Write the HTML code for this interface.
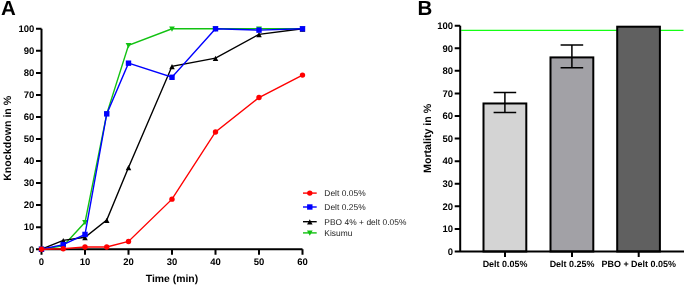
<!DOCTYPE html>
<html><head><meta charset="utf-8"><style>
html,body{margin:0;padding:0;background:#fff;}
svg{display:block;will-change:transform;text-rendering:geometricPrecision;font-family:"Liberation Sans",sans-serif;}
.tk{font-size:9.5px;font-weight:bold;}
.tt{font-size:10.65px;font-weight:bold;}
.bl{font-size:8.95px;font-weight:bold;}
.lg{font-size:8.4px;letter-spacing:0.05px;fill:#222;}
</style></head><body>
<svg width="685" height="285" viewBox="0 0 685 285">
<text x="0.9" y="15.3" font-size="20.5" font-weight="bold">A</text>
<text x="417.6" y="15.4" font-size="20.5" font-weight="bold">B</text>
<path d="M41.5 28.8V254.7M40.5 249.2H302.5M36.0 249.20H41.5M36.0 227.16H41.5M36.0 205.12H41.5M36.0 183.08H41.5M36.0 161.04H41.5M36.0 139.00H41.5M36.0 116.96H41.5M36.0 94.92H41.5M36.0 72.88H41.5M36.0 50.84H41.5M36.0 28.80H41.5M41.50 249.2V254.7M85.00 249.2V254.7M128.50 249.2V254.7M172.00 249.2V254.7M215.50 249.2V254.7M259.00 249.2V254.7M302.50 249.2V254.7" stroke="#000" stroke-width="2" fill="none"/>
<text x="34.3" y="252.50" text-anchor="end" class="tk">0</text>
<text x="34.3" y="230.46" text-anchor="end" class="tk">10</text>
<text x="34.3" y="208.42" text-anchor="end" class="tk">20</text>
<text x="34.3" y="186.38" text-anchor="end" class="tk">30</text>
<text x="34.3" y="164.34" text-anchor="end" class="tk">40</text>
<text x="34.3" y="142.30" text-anchor="end" class="tk">50</text>
<text x="34.3" y="120.26" text-anchor="end" class="tk">60</text>
<text x="34.3" y="98.22" text-anchor="end" class="tk">70</text>
<text x="34.3" y="76.18" text-anchor="end" class="tk">80</text>
<text x="34.3" y="54.14" text-anchor="end" class="tk">90</text>
<text x="34.3" y="32.10" text-anchor="end" class="tk">100</text>
<text x="41.50" y="265.4" text-anchor="middle" class="tk">0</text>
<text x="85.00" y="265.4" text-anchor="middle" class="tk">10</text>
<text x="128.50" y="265.4" text-anchor="middle" class="tk">20</text>
<text x="172.00" y="265.4" text-anchor="middle" class="tk">30</text>
<text x="215.50" y="265.4" text-anchor="middle" class="tk">40</text>
<text x="259.00" y="265.4" text-anchor="middle" class="tk">50</text>
<text x="302.50" y="265.4" text-anchor="middle" class="tk">60</text>
<text x="172" y="282.1" text-anchor="middle" class="tt" style="font-size:10.4px">Time (min)</text>
<text transform="translate(10.6 138.3) rotate(-90)" text-anchor="middle" class="tt">Knockdown in %</text>
<polyline points="41.50,249.20 63.25,245.89 85.00,222.31 106.75,113.87 128.50,45.33 172.00,28.80 215.50,28.80 259.00,28.80 302.50,28.80" fill="none" stroke="#12c212" stroke-width="1.4"/>
<path d="M41.50 252.11L44.35 246.81L38.65 246.81Z" fill="#12c212"/>
<path d="M63.25 248.81L66.10 243.51L60.40 243.51Z" fill="#12c212"/>
<path d="M85.00 225.23L87.85 219.93L82.15 219.93Z" fill="#12c212"/>
<path d="M106.75 116.79L109.60 111.49L103.90 111.49Z" fill="#12c212"/>
<path d="M128.50 48.25L131.35 42.95L125.65 42.95Z" fill="#12c212"/>
<path d="M172.00 31.72L174.85 26.42L169.15 26.42Z" fill="#12c212"/>
<path d="M215.50 31.72L218.35 26.42L212.65 26.42Z" fill="#12c212"/>
<path d="M259.00 31.72L261.85 26.42L256.15 26.42Z" fill="#12c212"/>
<path d="M302.50 31.72L305.35 26.42L299.65 26.42Z" fill="#12c212"/>
<polyline points="41.50,249.20 63.25,240.38 85.00,237.30 106.75,220.11 128.50,167.43 172.00,66.27 215.50,58.11 259.00,34.31 302.50,28.80" fill="none" stroke="#000000" stroke-width="1.4"/>
<path d="M41.50 246.81L44.25 252.11L38.75 252.11Z" fill="#000000"/>
<path d="M63.25 238.00L66.00 243.30L60.50 243.30Z" fill="#000000"/>
<path d="M85.00 234.91L87.75 240.21L82.25 240.21Z" fill="#000000"/>
<path d="M106.75 217.72L109.50 223.02L104.00 223.02Z" fill="#000000"/>
<path d="M128.50 165.05L131.25 170.35L125.75 170.35Z" fill="#000000"/>
<path d="M172.00 63.88L174.75 69.18L169.25 69.18Z" fill="#000000"/>
<path d="M215.50 55.73L218.25 61.03L212.75 61.03Z" fill="#000000"/>
<path d="M259.00 31.93L261.75 37.23L256.25 37.23Z" fill="#000000"/>
<path d="M302.50 26.42L305.25 31.72L299.75 31.72Z" fill="#000000"/>
<polyline points="41.50,249.20 63.25,244.57 85.00,234.43 106.75,113.87 128.50,63.18 172.00,77.29 215.50,28.80 259.00,30.12 302.50,28.80" fill="none" stroke="#0000ff" stroke-width="1.4"/>
<rect x="38.80" y="246.50" width="5.4" height="5.4" fill="#0000ff"/>
<rect x="60.55" y="241.87" width="5.4" height="5.4" fill="#0000ff"/>
<rect x="82.30" y="231.73" width="5.4" height="5.4" fill="#0000ff"/>
<rect x="104.05" y="111.17" width="5.4" height="5.4" fill="#0000ff"/>
<rect x="125.80" y="60.48" width="5.4" height="5.4" fill="#0000ff"/>
<rect x="169.30" y="74.59" width="5.4" height="5.4" fill="#0000ff"/>
<rect x="212.80" y="26.10" width="5.4" height="5.4" fill="#0000ff"/>
<rect x="256.30" y="27.42" width="5.4" height="5.4" fill="#0000ff"/>
<rect x="299.80" y="26.10" width="5.4" height="5.4" fill="#0000ff"/>
<polyline points="41.50,249.20 63.25,248.76 85.00,247.00 106.75,247.00 128.50,241.49 172.00,199.17 215.50,131.95 259.00,97.56 302.50,75.08" fill="none" stroke="#ff0000" stroke-width="1.4"/>
<circle cx="41.50" cy="249.20" r="2.7" fill="#ff0000"/>
<circle cx="63.25" cy="248.76" r="2.7" fill="#ff0000"/>
<circle cx="85.00" cy="247.00" r="2.7" fill="#ff0000"/>
<circle cx="106.75" cy="247.00" r="2.7" fill="#ff0000"/>
<circle cx="128.50" cy="241.49" r="2.7" fill="#ff0000"/>
<circle cx="172.00" cy="199.17" r="2.7" fill="#ff0000"/>
<circle cx="215.50" cy="131.95" r="2.7" fill="#ff0000"/>
<circle cx="259.00" cy="97.56" r="2.7" fill="#ff0000"/>
<circle cx="302.50" cy="75.08" r="2.7" fill="#ff0000"/>
<path d="M303 193.1H316.7" stroke="#ff0000" stroke-width="1.4"/>
<circle cx="309.80" cy="193.10" r="2.7" fill="#ff0000"/>
<text x="324.3" y="196.10" class="lg">Delt 0.05%</text>
<path d="M303 207H316.7" stroke="#0000ff" stroke-width="1.4"/>
<rect x="307.10" y="204.30" width="5.4" height="5.4" fill="#0000ff"/>
<text x="324.3" y="210.00" class="lg">Delt 0.25%</text>
<path d="M303 221.7H316.7" stroke="#000000" stroke-width="1.4"/>
<path d="M309.80 219.31L312.55 224.61L307.05 224.61Z" fill="#000000"/>
<text x="324.3" y="224.70" class="lg">PBO 4% + delt 0.05%</text>
<path d="M303 232.9H316.7" stroke="#12c212" stroke-width="1.4"/>
<path d="M309.80 235.81L312.65 230.52L306.95 230.52Z" fill="#12c212"/>
<text x="324.3" y="235.90" class="lg">Kisumu</text>
<path d="M461.2 30.35H683.5" stroke="#14ff14" stroke-width="1.3"/>
<rect x="483.5" y="103.47" width="42.80" height="148.03" fill="#d4d4d4" stroke="#000" stroke-width="2"/>
<path d="M504.90 92.51V112.43M493.60 92.51H516.20M493.60 112.43H516.20" stroke="#000" stroke-width="1.5" fill="none"/>
<rect x="550.5" y="57.41" width="42.80" height="194.09" fill="#a2a1a6" stroke="#000" stroke-width="2"/>
<path d="M571.90 44.96V67.86M560.60 44.96H583.20M560.60 67.86H583.20" stroke="#000" stroke-width="1.5" fill="none"/>
<rect x="617.2" y="26.70" width="42.70" height="224.80" fill="#606060" stroke="#000" stroke-width="2"/>
<path d="M460.2 25.7V251.5M459.2 251.5H684M454.7 251.50H460.2M454.7 228.92H460.2M454.7 206.34H460.2M454.7 183.76H460.2M454.7 161.18H460.2M454.7 138.60H460.2M454.7 116.02H460.2M454.7 93.44H460.2M454.7 70.86H460.2M454.7 48.28H460.2M454.7 25.70H460.2M505 251.5V257.0M572 251.5V257.0M638.7 251.5V257.0" stroke="#000" stroke-width="2" fill="none"/>
<text x="453" y="254.80" text-anchor="end" class="tk">0</text>
<text x="453" y="232.22" text-anchor="end" class="tk">10</text>
<text x="453" y="209.64" text-anchor="end" class="tk">20</text>
<text x="453" y="187.06" text-anchor="end" class="tk">30</text>
<text x="453" y="164.48" text-anchor="end" class="tk">40</text>
<text x="453" y="141.90" text-anchor="end" class="tk">50</text>
<text x="453" y="119.32" text-anchor="end" class="tk">60</text>
<text x="453" y="96.74" text-anchor="end" class="tk">70</text>
<text x="453" y="74.16" text-anchor="end" class="tk">80</text>
<text x="453" y="51.58" text-anchor="end" class="tk">90</text>
<text x="453" y="29.00" text-anchor="end" class="tk">100</text>
<text x="505" y="267" text-anchor="middle" class="bl">Delt 0.05%</text>
<text x="572" y="267" text-anchor="middle" class="bl">Delt 0.25%</text>
<text x="638.7" y="267" text-anchor="middle" class="bl">PBO + Delt 0.05%</text>
<text transform="translate(430.8 138.4) rotate(-90)" text-anchor="middle" class="tt">Mortality in %</text>
</svg>
</body></html>
